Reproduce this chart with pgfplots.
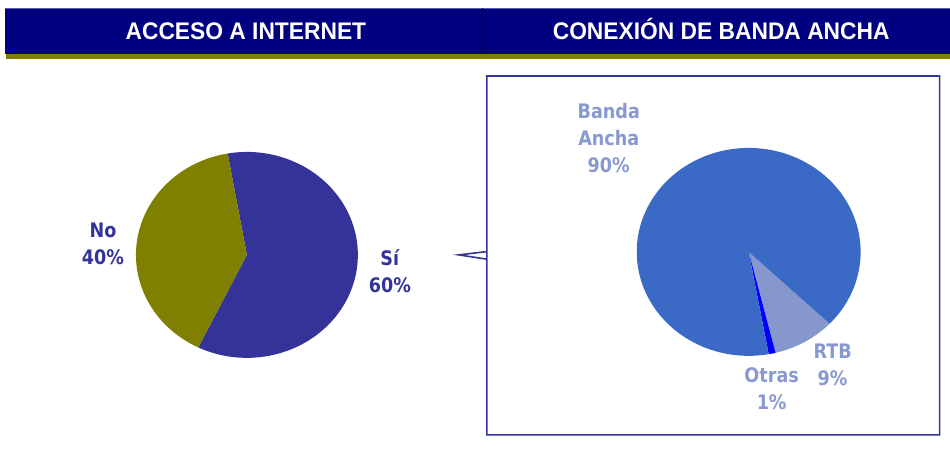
\documentclass[border=0pt]{standalone}
\usepackage{pgfplots}
\pgfplotsset{compat=1.18}
\usepackage{fontspec}
\setmainfont{DejaVu Sans}
\newfontfamily\headfont[FakeStretch=0.95]{Liberation Sans}
\newfontfamily\labfont[FakeStretch=0.88]{DejaVu Sans}

\definecolor{navy}{HTML}{000080}
\definecolor{olive}{HTML}{808000}
\definecolor{siblue}{HTML}{333399}
\definecolor{banda}{HTML}{3A6AC6}
\definecolor{rtb}{HTML}{8597CC}
\definecolor{otras}{HTML}{0000FF}
\definecolor{lightlab}{HTML}{8898D0}

\tikzset{
    lab/.style={font=\labfont\bfseries\fontsize{20}{27}\selectfont, align=center},
    head/.style={anchor=base, text=white, font=\headfont\bfseries\fontsize{24}{28}\selectfont},
}

\begin{document}
\begin{tikzpicture}
\begin{axis}[
    width=950pt, height=450pt,
    scale only axis,
    xmin=0, xmax=950, ymin=0, ymax=450,
    hide axis,
    clip=false,
]
\path (axis cs:0,0) rectangle (axis cs:950,450);
% header bar
\fill[navy] (axis cs:5,395.5) rectangle (axis cs:950,441.7);
\draw[siblue!80, line width=0.8pt] (axis cs:5,441.7) -- (axis cs:950,441.7);
\draw[navy!70!black, line width=0.8pt] (axis cs:483,395.5) -- (axis cs:483,441.7);
\fill[olive] (axis cs:6,391) rectangle (axis cs:950,395.5);
\node[head] at (axis cs:246,410) {ACCESO A INTERNET};
\node[head] at (axis cs:721.5,410) {CONEXIÓN DE BANDA ANCHA};

% left pie: Sí 60, No 40 (start at 100 deg, clockwise)
\addplot[fill=siblue, draw=none, domain=100-3.6*60:100, samples=150]
    ({247+111*cos(x)}, {195+103*sin(x)}) -- (axis cs:247,195) -- cycle;
\addplot[fill=olive, draw=none, domain=100:100+3.6*40, samples=120]
    ({247+111*cos(x)}, {195+103*sin(x)}) -- (axis cs:247,195) -- cycle;
\node[lab, text=siblue] at (axis cs:103,206.5) {No\\40\%};
\node[lab, text=siblue] at (axis cs:390,178.5) {Sí\\60\%};

% callout box
\draw[siblue, line width=1.6pt, line join=miter]
    (axis cs:487,190.7) -- (axis cs:487,374) -- (axis cs:940,374) -- (axis cs:940,15)
    -- (axis cs:487,15) -- (axis cs:487,190.7) -- (axis cs:459,195) -- (axis cs:487,198.3);

% right pie: Banda Ancha 90, RTB 9, Otras 1
\addplot[fill=rtb, draw=none, domain=-43.7-3.6*9:-43.7, samples=40]
    ({749+112*cos(x)}, {198+104*sin(x)}) -- (axis cs:749,198) -- cycle;
\addplot[fill=otras, draw=none, domain=-43.7-3.6*9-3.6*1:-43.7-3.6*9, samples=10]
    ({749+112*cos(x)}, {198+104*sin(x)}) -- (axis cs:749,198) -- cycle;
\addplot[fill=banda, draw=none, domain=-43.7:-43.7+3.6*90, samples=200]
    ({749+112*cos(x)}, {198+104*sin(x)}) -- (axis cs:749,198) -- cycle;
\node[lab, text=lightlab] at (axis cs:609,312) {Banda\\Ancha\\90\%};
\node[lab, text=lightlab] at (axis cs:833,85) {RTB\\9\%};
\node[lab, text=lightlab] at (axis cs:772,61.5) {Otras\\1\%};
\end{axis}
\end{tikzpicture}
\end{document}
